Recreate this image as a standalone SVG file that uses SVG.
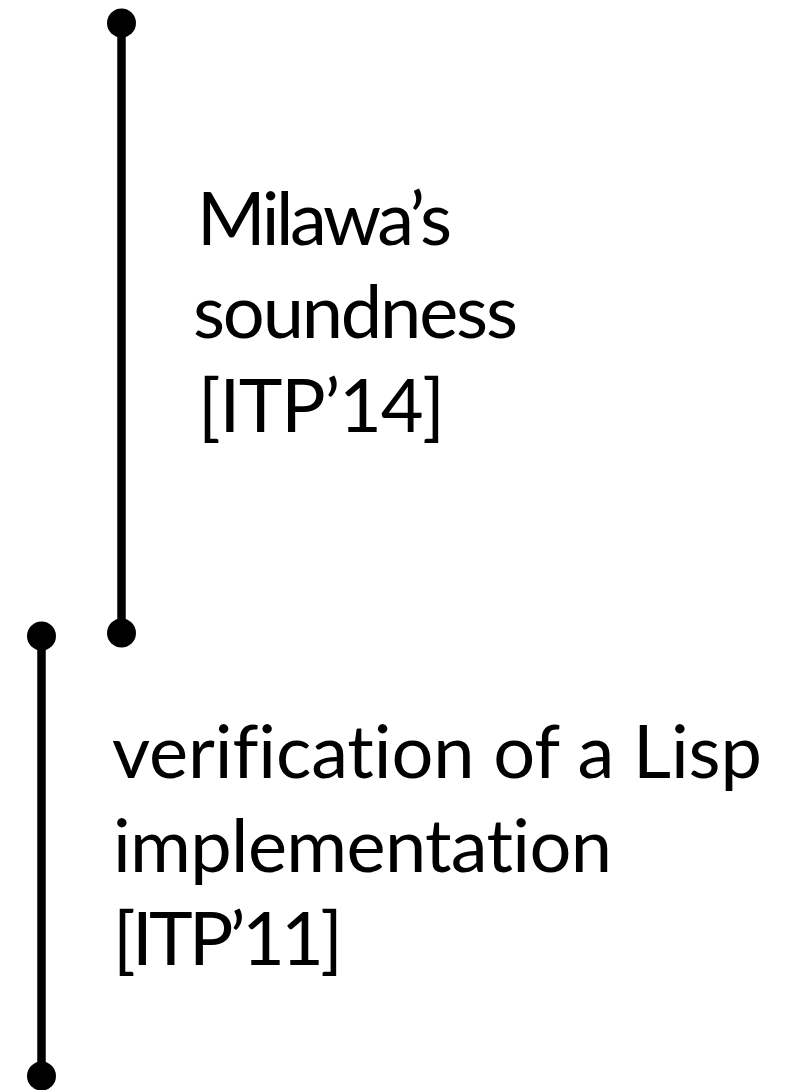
<svg xmlns="http://www.w3.org/2000/svg" width="793" height="1090" viewBox="0 0 793 1090">
<style>
.t{font-family:Lato,"Open Sans","Liberation Sans",sans-serif;font-size:74px;fill:#000;font-variant-ligatures:none;font-feature-settings:"liga" 0,"clig" 0,"dlig" 0}
.ln{stroke:#000;stroke-width:8.5;fill:none}
.dot{fill:#000}
</style>
<rect width="793" height="1090" fill="#fff"/>
<g id="connectors">
<line class="ln" x1="121.5" y1="23" x2="121.5" y2="633"/>
<line class="ln" x1="41.5" y1="636" x2="41.5" y2="1076"/>
</g>
<g id="node-itp14">
<circle class="dot" cx="121.5" cy="23" r="14.5"/>
<circle class="dot" cx="121.5" cy="633" r="14.5"/>
<text class="t" x="197" y="245" textLength="255">Milawa’s</text>
<text class="t" x="193" y="338" textLength="325">soundness</text>
<text class="t" x="198" y="432" textLength="247">[ITP’14]</text>
</g>
<g id="node-itp11">
<circle class="dot" cx="41.5" cy="636" r="14.5"/>
<circle class="dot" cx="41.5" cy="1076" r="14.5"/>
<text class="t" x="112" y="778" textLength="650">verification of a Lisp</text>
<text class="t" x="113" y="872" textLength="499">implementation</text>
<text class="t" x="113" y="965" textLength="230">[ITP’11]</text>
</g>
</svg>
